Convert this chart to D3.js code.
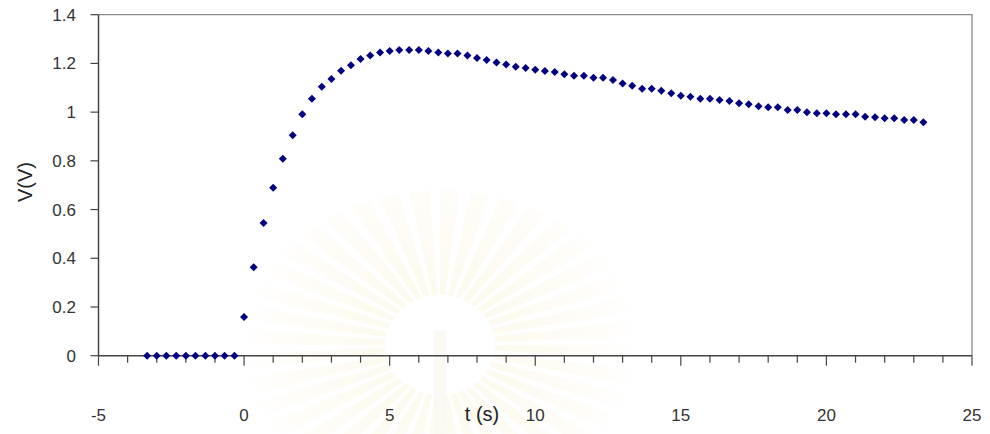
<!DOCTYPE html>
<html>
<head>
<meta charset="utf-8">
<script src="https://cdn.jsdelivr.net/npm/d3@7"></script>
<style>
  body { margin: 0; background: #fff; }
  text { font-family: "Liberation Sans", Arial, sans-serif; fill: #333; }
</style>
</head>
<body>
<div id="chart"></div>
<script>
// time (s), one sample every 1/3 s
var times = [-3.33, -3, -2.67, -2.33, -2, -1.67, -1.33, -1, -0.67, -0.33,
  0, 0.33, 0.67, 1, 1.33, 1.67, 2, 2.33, 2.67, 3,
  3.33, 3.67, 4, 4.33, 4.67, 5, 5.33, 5.67, 6, 6.33,
  6.67, 7, 7.33, 7.67, 8, 8.33, 8.67, 9, 9.33, 9.67,
  10, 10.33, 10.67, 11, 11.33, 11.67, 12, 12.33, 12.67, 13,
  13.33, 13.67, 14, 14.33, 14.67, 15, 15.33, 15.67, 16, 16.33,
  16.67, 17, 17.33, 17.67, 18, 18.33, 18.67, 19, 19.33, 19.67,
  20, 20.33, 20.67, 21, 21.33, 21.67, 22, 22.33, 22.67, 23, 23.33];

// voltage (V)
var volts = [0, 0, 0, 0, 0, 0, 0, 0, 0, 0,
  0.159, 0.363, 0.545, 0.690, 0.809, 0.905, 0.991, 1.055, 1.104, 1.136,
  1.170, 1.192, 1.218, 1.233, 1.245, 1.251, 1.255, 1.255, 1.255, 1.251,
  1.245, 1.241, 1.241, 1.233, 1.222, 1.214, 1.204, 1.196, 1.186, 1.181,
  1.174, 1.169, 1.165, 1.156, 1.149, 1.149, 1.141, 1.141, 1.132, 1.118,
  1.108, 1.096, 1.096, 1.088, 1.077, 1.067, 1.063, 1.055, 1.055, 1.050,
  1.046, 1.036, 1.032, 1.024, 1.020, 1.020, 1.009, 1.009, 1.000, 0.995,
  0.995, 0.991, 0.991, 0.991, 0.981, 0.979, 0.975, 0.975, 0.968, 0.968, 0.958];

var xTicks = [-5, 0, 5, 10, 15, 20, 25];
var xMinorTicks = d3.range(-5, 26, 1);
var yTicks = [0, 0.2, 0.4, 0.6, 0.8, 1, 1.2, 1.4];

var data = times.map(function(t, i) {
  return { t: t, v: volts[i] };
});

var width = 990, height = 434;
var margin = { left: 98.5, right: 972, top: 14.7, bottom: 355.7 };

var x = d3.scaleLinear().domain([-5, 25]).range([margin.left, margin.right]);
var y = d3.scaleLinear().domain([0, 1.4]).range([margin.bottom, margin.top]);

var svg = d3.select("#chart")
  .append("svg")
  .attr("width", width)
  .attr("height", height);

// faint watermark behind the plot
var defs = svg.append("defs");
var grad = defs.append("radialGradient")
  .attr("id", "wm")
  .attr("gradientUnits", "userSpaceOnUse")
  .attr("cx", 0).attr("cy", 0).attr("r", 200);
grad.append("stop").attr("offset", "0.25").attr("stop-color", "#fbf4dc");
grad.append("stop").attr("offset", "0.75").attr("stop-color", "#fdfaf0");
grad.append("stop").attr("offset", "1").attr("stop-color", "#ffffff");

var wm = svg.append("g").attr("transform", "translate(440,345)");
var nRays = 40;
d3.range(nRays).forEach(function(k) {
  var a0 = (k / nRays) * 2 * Math.PI;
  var a1 = ((k + 0.65) / nRays) * 2 * Math.PI;
  var rx = 195, ry = 155, r0 = 50;
  var p = "M" + r0 * Math.cos(a0) + "," + r0 * Math.sin(a0) +
    "L" + rx * Math.cos(a0) + "," + ry * Math.sin(a0) +
    "L" + rx * Math.cos(a1) + "," + ry * Math.sin(a1) +
    "L" + r0 * Math.cos(a1) + "," + r0 * Math.sin(a1) + "Z";
  wm.append("path")
    .attr("d", p)
    .attr("fill", "url(#wm)")
    .attr("opacity", 0.5);
});
wm.append("ellipse").attr("rx", 55).attr("ry", 50).attr("fill", "#fff");
wm.append("rect").attr("x", -6).attr("y", -15).attr("width", 12).attr("height", 110)
  .attr("fill", "#faf7f0").attr("opacity", 0.8);

// plot frame (top and right)
svg.append("path")
  .attr("d", "M" + margin.left + "," + margin.top + "H" + margin.right + "V" + margin.bottom)
  .attr("fill", "none")
  .attr("stroke", "#8a8a8a")
  .attr("stroke-width", 1.3);

// y axis
svg.append("line")
  .attr("x1", margin.left).attr("x2", margin.left)
  .attr("y1", margin.top).attr("y2", margin.bottom)
  .attr("stroke", "#444").attr("stroke-width", 1.5);

svg.selectAll(".ytick")
  .data(yTicks)
  .enter()
  .append("line")
  .attr("x1", margin.left - 8).attr("x2", margin.left)
  .attr("y1", function(d) { return y(d); })
  .attr("y2", function(d) { return y(d); })
  .attr("stroke", "#444").attr("stroke-width", 1.2);

svg.selectAll(".ylabel")
  .data(yTicks)
  .enter()
  .append("text")
  .attr("x", 76)
  .attr("y", function(d) { return y(d) + 6; })
  .attr("text-anchor", "end")
  .style("font-size", "17px")
  .text(function(d) { return d; });

// x axis
svg.append("line")
  .attr("x1", margin.left).attr("x2", margin.right)
  .attr("y1", margin.bottom).attr("y2", margin.bottom)
  .attr("stroke", "#444").attr("stroke-width", 1.5);

svg.selectAll(".xminor")
  .data(xMinorTicks)
  .enter()
  .append("line")
  .attr("x1", function(d) { return x(d); })
  .attr("x2", function(d) { return x(d); })
  .attr("y1", margin.bottom)
  .attr("y2", function(d) { return d % 5 === 0 ? margin.bottom + 10 : margin.bottom + 7; })
  .attr("stroke", "#444").attr("stroke-width", 1.2);

svg.selectAll(".xlabel")
  .data(xTicks)
  .enter()
  .append("text")
  .attr("x", function(d) { return x(d); })
  .attr("y", 421)
  .attr("text-anchor", "middle")
  .style("font-size", "17px")
  .text(function(d) { return d; });

// axis titles
svg.append("text")
  .attr("x", 482)
  .attr("y", 421)
  .attr("text-anchor", "middle")
  .style("font-size", "20px")
  .style("fill", "#222")
  .text("t (s)");

svg.append("text")
  .attr("transform", "translate(32,182) rotate(-90)")
  .attr("text-anchor", "middle")
  .style("font-size", "20px")
  .style("fill", "#222")
  .text("V(V)");

// data points (diamonds)
svg.selectAll(".pt")
  .data(data)
  .enter()
  .append("path")
  .attr("class", "pt")
  .attr("d", "M0,-4L4,0L0,4L-4,0Z")
  .attr("transform", function(d) {
    return "translate(" + x(d.t) + "," + y(d.v) + ")";
  })
  .attr("fill", "#000080");
</script>
</body>
</html>
